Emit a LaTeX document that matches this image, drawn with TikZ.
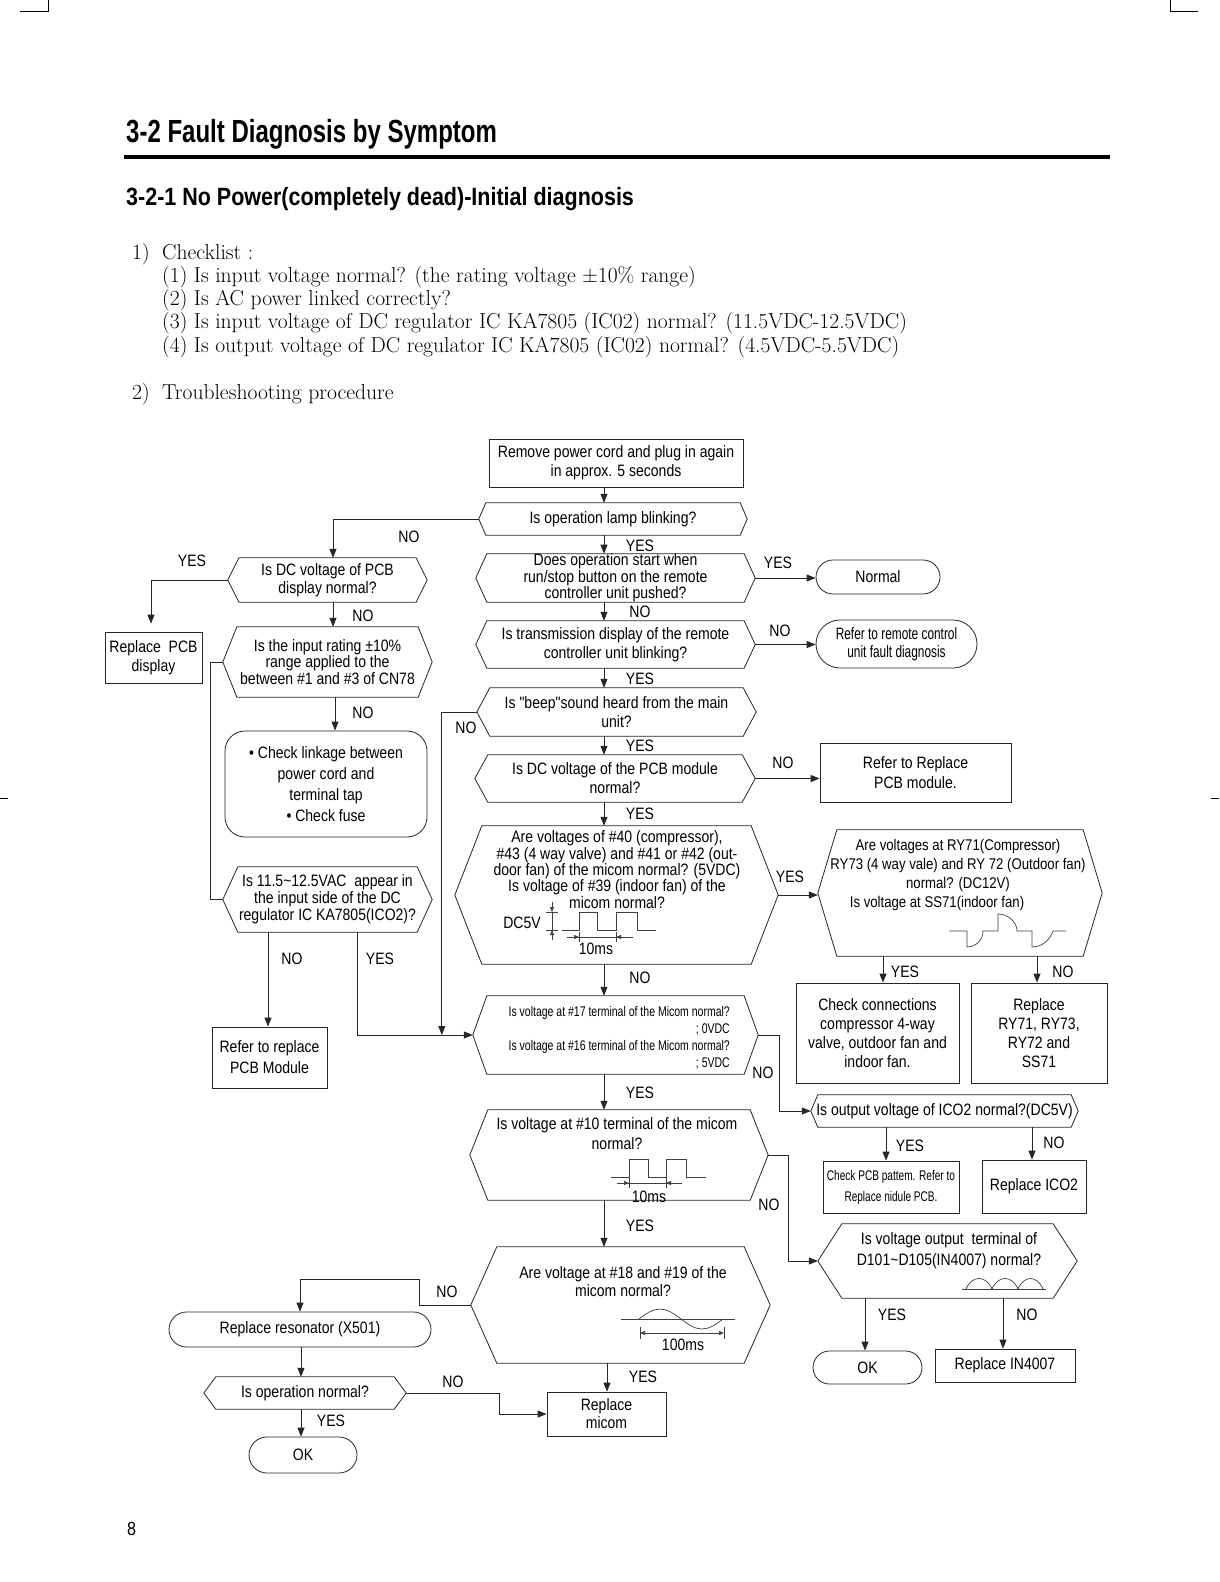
\documentclass[tikz,border=0pt]{standalone}
\usepackage{fontspec}
\newfontfamily\cf[FakeStretch=0.85]{Liberation Sans}
\newfontfamily\cfn[FakeStretch=0.72]{Liberation Sans}
\newfontfamily\cfx[FakeStretch=0.75]{Liberation Sans}
\newfontfamily\hdf[FakeStretch=0.75]{Liberation Sans}
\newfontfamily\hdg[FakeStretch=0.86]{Liberation Sans}
\usetikzlibrary{arrows.meta,shapes.misc,calc}
\tikzset{
  ln/.style={draw=black!85, line width=0.8pt},
  arr/.style={ln, -{Triangle[length=9pt,width=7pt]}},
  wv/.style={draw=black!75, line width=0.7pt},
  fA/.style={font=\cf\fontsize{16.5}{19}\selectfont},
  box/.style={ln, rectangle, inner sep=0pt, align=center, fA},
  hx/.style={inner sep=0pt, align=center, fA},
  stad/.style={ln, rounded rectangle, inner sep=0pt, align=center, fA},
  lbl/.style={inner sep=0pt, fA},
  txt/.style={inner sep=0pt, align=center, fA},
  ck/.style={anchor=base west, inner sep=0pt, font=\fontsize{21.6}{23}\selectfont},
  tip/.style={-{Triangle[length=5pt,width=4pt]}}
}
\newcommand\hexo[2]{\draw[ln] (#1.west) -- ([xshift=#2]#1.north west) -- ([xshift=-#2]#1.north east) -- (#1.east) -- ([xshift=-#2]#1.south east) -- ([xshift=#2]#1.south west) -- cycle;}
\begin{document}
\begin{tikzpicture}[x=1pt,y=-1pt]
\fill[white] (0,0) rectangle (1219,1582);
\useasboundingbox (0,0) rectangle (1219,1582);
% crop marks
\draw[line width=1pt] (20,11) -- (48,11) -- (48,0);
\draw[line width=1pt] (1170,0) -- (1170,11) -- (1198,11);
\draw[line width=1pt] (0,798) -- (8,798);
\draw[line width=1pt] (1211,798) -- (1219,798);
% header
\node[anchor=base west, inner sep=0pt, font=\hdf\bfseries\fontsize{32}{32}\selectfont] (t1) at (126,142) {3-2 Fault Diagnosis by Symptom};
\draw[line width=4pt] (124,157) -- (1110,157);
\node[anchor=base west, inner sep=0pt, font=\hdg\bfseries\fontsize{25}{25}\selectfont] (t2) at (126,205) {3-2-1 No Power(completely dead)-Initial diagnosis};
\node[ck] (c0) at (132,259) {\makebox[30pt][l]{1)}Checklist :};
\node[ck] (c1) at (162,282.3) {(1) Is input voltage normal? (the rating voltage ±10\% range)};
\node[ck] (c2) at (162,305.6) {(2) Is AC power linked correctly?};
\node[ck] (c3) at (162,328.9) {(3) Is input voltage of DC regulator IC KA7805 (IC02) normal? (11.5VDC-12.5VDC)};
\node[ck] (c4) at (162,352.2) {(4) Is output voltage of DC regulator IC KA7805 (IC02) normal? (4.5VDC-5.5VDC)};
\node[ck] (c5) at (132,399.5) {\makebox[30pt][l]{2)}Troubleshooting procedure};
\node[anchor=base west, inner sep=0pt, font=\cf\fontsize{19}{19}\selectfont] (pg) at (127,1535) {8};

% ---------- nodes ----------
\node[box, minimum width=254, minimum height=48] (start) at (616,463) {Remove power cord and plug in again\\in approx. 5 seconds};
\node[hx, minimum width=268, minimum height=32] (lamp) at (613,519) {Is operation lamp blinking?}; \hexo{lamp}{7}
\node[hx, minimum width=279, minimum height=48, font={\cf\fontsize{16.5}{14.5}\selectfont}] (op) at (615.5,578) {Does operation start when\\run/stop button on the remote\\controller unit pushed?}; \hexo{op}{11}
\node[stad, minimum width=124, minimum height=34] (normal) at (878,577) {Normal};
\node[hx, minimum width=279, minimum height=47] (trans) at (615.5,644.5) {Is transmission display of the remote\\controller unit blinking?}; \hexo{trans}{11}
\node[stad, minimum width=161, minimum height=48, font={\cfn\fontsize{16.5}{18}\selectfont}] (remote) at (896.5,644) {Refer to remote control\\unit fault diagnosis};
\node[hx, minimum width=279, minimum height=48] (beep) at (616.5,712) {Is "beep"sound heard from the main\\unit?}; \hexo{beep}{13}
\node[hx, minimum width=199, minimum height=44, font={\cf\fontsize{16.5}{17.5}\selectfont}] (dcpcb) at (327.5,580) {Is DC voltage of PCB\\display normal?}; \hexo{dcpcb}{11}
\node[box, minimum width=97, minimum height=51] (rpd) at (153.5,657.5) {Replace~ PCB\\display};
\node[hx, minimum width=209, minimum height=70, font={\cf\fontsize{16.5}{16.5}\selectfont}] (rating) at (327.5,662) {Is the input rating ±10\%\\range applied to the\\between \#1 and \#3 of CN78}; \hexo{rating}{14}
\node[box, rounded corners=20pt, minimum width=202, minimum height=106, font={\cf\fontsize{16.5}{21}\selectfont}] (chk) at (326,784) {• Check linkage between\\power cord and\\terminal tap\\• Check fuse};
\node[hx, minimum width=209, minimum height=65, font={\cf\fontsize{16.5}{17}\selectfont}] (ic) at (327.5,899.5) {Is 11.5\textasciitilde 12.5VAC~ appear in\\the input side of the DC\\regulator IC KA7805(ICO2)?}; \hexo{ic}{15}
\node[box, minimum width=115, minimum height=61, font={\cf\fontsize{16.5}{21}\selectfont}] (rpm) at (269.5,1057.5) {Refer to replace\\PCB Module};
\node[hx, minimum width=280, minimum height=47] (dcm) at (615,778.5) {Is DC voltage of the PCB module\\normal?}; \hexo{dcm}{13}
\node[box, minimum width=191, minimum height=59, font={\cf\fontsize{16.5}{20}\selectfont}] (rrp) at (915.5,772.5) {Refer to Replace\\PCB module.};
\node[hx, minimum width=323, minimum height=138] (big) at (616.5,895) {}; \hexo{big}{27}
\node[txt, font={\cf\fontsize{16.5}{16.3}\selectfont}] (bigT) at (617,869.5) {Are voltages of \#40 (compressor),\\\#43 (4 way valve) and \#41 or \#42 (out-\\door fan) of the micom normal? (5VDC)\\Is voltage of \#39 (indoor fan) of the\\micom normal?};
\node[hx, minimum width=284, minimum height=126] (ry) at (960,893) {}; \hexo{ry}{19}
\node[txt, font={\cf\fontsize{15.5}{19}\selectfont}] (ryT) at (958,875) {Are voltages at RY71(Compressor)\\RY73 (4 way vale) and RY 72 (Outdoor fan)\\normal? (DC12V)\\Is voltage at SS71(indoor fan)\hspace*{42pt}};
\node[box, minimum width=163, minimum height=100] (cc) at (877.5,1033) {Check connections\\compressor 4-way\\valve, outdoor fan and\\indoor fan.};
\node[box, minimum width=136, minimum height=100] (rry) at (1039,1033) {Replace\\RY71, RY73,\\RY72 and\\SS71};
\node[hx, minimum width=285, minimum height=78] (s17) at (615.5,1035) {}; \hexo{s17}{14}
\node[txt, align=right, anchor=east, font={\cfx\fontsize{14}{17}\selectfont}] (s17T) at (730,1037.5) {Is voltage at \#17 terminal of the Micom normal?\\; 0VDC\\Is voltage at \#16 terminal of the Micom normal?\\; 5VDC};
\node[hx, minimum width=298, minimum height=90] (s10) at (619,1155) {}; \hexo{s10}{18}
\node[txt, font={\cf\fontsize{16.5}{20}\selectfont}] (s10T) at (617,1134) {Is voltage at \#10 terminal of the micom\\normal?};
\node[hx, minimum width=267, minimum height=32] (ico2) at (944.5,1111) {Is output voltage of ICO2 normal?(DC5V)}; \hexo{ico2}{7}
\node[box, minimum width=136, minimum height=52, font={\cfn\fontsize{14}{21}\selectfont}] (cpp) at (891,1187) {Check PCB pattem. Refer to\\Replace nidule PCB.};
\node[box, minimum width=104, minimum height=53] (ric) at (1034,1186.5) {Replace ICO2};
\node[hx, minimum width=259, minimum height=74] (d101) at (947.5,1261) {}; \hexo{d101}{24}
\node[txt, font={\cf\fontsize{16.5}{21}\selectfont}] (d101T) at (949,1250.5) {Is voltage output~ terminal of\\D101\textasciitilde D105(IN4007) normal?};
\node[stad, minimum width=109, minimum height=33] (ok2) at (867.5,1367.5) {OK};
\node[box, minimum width=140, minimum height=33] (rin) at (1005,1365.5) {Replace IN4007};
\node[hx, minimum width=299, minimum height=116] (s18) at (620.5,1305) {}; \hexo{s18}{26}
\node[txt, font={\cf\fontsize{16.5}{18}\selectfont}] (s18T) at (623,1282) {Are voltage at \#18 and \#19 of the\\micom normal?};
\node[stad, minimum width=262, minimum height=35] (res) at (300,1329.5) {Replace resonator (X501)};
\node[hx, minimum width=202, minimum height=32] (opn) at (305,1393) {Is operation normal?}; \hexo{opn}{12}
\node[box, minimum width=119, minimum height=44, font={\cf\fontsize{16.5}{18}\selectfont}] (rm) at (606.5,1414) {Replace\\micom};
\node[stad, minimum width=108, minimum height=36] (ok1) at (303,1455) {OK};

% ---------- waveforms ----------
\node[lbl] (dc5) at (522,923) {DC5V};
\draw[wv] (562,930) -- (579,930) -- (579,912) -- (597,912) -- (597,930) -- (616,930) -- (616,912) -- (637,912) -- (637,930) -- (656,930);
\draw[wv] (546,912) -- (558,912) (546,930) -- (558,930) (552,912) -- (552,930);
\draw[wv,tip] (552,902) -- (552,912);
\draw[wv,tip] (552,940) -- (552,930);
\draw[wv] (579,932) -- (579,942) (616,932) -- (616,942) (567,937) -- (633,937);
\draw[wv,tip] (567,937) -- (579,937);
\draw[wv,tip] (633,937) -- (616,937);
\node[lbl] (ms1) at (596,949) {10ms};

\draw[wv] (611,1177) -- (629,1177) -- (629,1159) -- (648,1159) -- (648,1177) -- (666,1177) -- (666,1159) -- (686,1159) -- (686,1177) -- (706,1177);
\draw[wv] (629,1178) -- (629,1188) (666,1178) -- (666,1188) (617,1183) -- (682,1183);
\draw[wv,tip] (617,1183) -- (629,1183);
\draw[wv,tip] (682,1183) -- (666,1183);
\node[lbl] (ms2) at (649,1197) {10ms};

\draw[wv] (621,1319) -- (735,1319);
\draw[wv] (639,1319) sin (660,1309) cos (681,1319) sin (702,1329) cos (723,1319);
\draw[wv] (640,1327) -- (640,1339) (724,1327) -- (724,1339);
\draw[wv,{Triangle[length=5pt,width=4pt]}-{Triangle[length=5pt,width=4pt]}] (640,1333) -- (724,1333);
\node[lbl] (ms3) at (683,1345) {100ms};

\draw[wv] (949,931) -- (967,931) -- (967,947) .. controls (976,947) and (983,940) .. (983,931) -- (998,931) -- (998,914) .. controls (1008,914) and (1017,922) .. (1017,931) -- (1032,931) -- (1032,947) .. controls (1042,947) and (1050,940) .. (1053,931) -- (1066,931);

\draw[wv] (962,1289) -- (1046,1289);
\draw[wv] (966,1289) .. controls (972,1275) and (986,1275) .. (992,1289) .. controls (998,1275) and (1012,1275) .. (1018,1289) .. controls (1024,1275) and (1037,1275) .. (1043,1289);

% ---------- connectors ----------
\coordinate (cA) at (604,0);
\coordinate (cB) at (333,0);
\coordinate (cC) at (268,0);
\coordinate (cD) at (357,0);
\coordinate (cE) at (883,0);
\coordinate (cF) at (1037,0);
\coordinate (cG) at (886,0);
\coordinate (cH) at (1032,0);
\coordinate (cI) at (865,0);
\coordinate (cJ) at (1003,0);
\coordinate (cK) at (301,0);
\coordinate (cL) at (607,0);
\coordinate (cM) at (151,0);
\coordinate (cN) at (335,0);
\coordinate (b1) at (419,1279);
\coordinate (j1) at ([xshift=-31]s17.west);

\draw[arr] (start.south -| cA) -- (lamp.north -| cA);
\draw[arr] (lamp.west) -| (dcpcb.north -| cB);
\draw[arr, shorten >=8pt] (dcpcb.west) -| (rpd.north -| cM);
\draw[arr] (dcpcb.south -| cB) -- (rating.north -| cB);
\draw[ln] (rating.west) -- ++(-12,0) |- (ic.west);
\draw[arr] (rating.south -| cN) -- (chk.north -| cN);
\draw[arr] (ic.south -| cC) -- (rpm.north -| cC);
\draw[arr] (ic.south -| cD) |- (s17.west);
\draw[arr] (beep.west) -| (j1);
\draw[arr] (lamp.south -| cA) -- (op.north -| cA);
\draw[arr] (op.east) -- (op.east -| normal.west);
\draw[arr] (op.south -| cA) -- (trans.north -| cA);
\draw[arr] (trans.east) -- (trans.east -| remote.west);
\draw[arr] (trans.south -| cA) -- (beep.north -| cA);
\draw[arr] (beep.south -| cA) -- (dcm.north -| cA);
\draw[arr] (dcm.east) -- (dcm.east -| rrp.west);
\draw[arr] (dcm.south -| cA) -- (big.north -| cA);
\draw[arr] (big.east) -- (big.east -| ry.west);
\draw[arr] (big.south -| cA) -- (s17.north -| cA);
\draw[arr] (ry.south -| cE) -- (cc.north -| cE);
\draw[arr] (ry.south -| cF) -- (rry.north -| cF);
\draw[arr] (s17.east) -- ++(21,0) |- (ico2.west);
\draw[arr] (s17.south -| cA) -- (s10.north -| cA);
\draw[arr] (s10.east) -- ++(20,0) |- (d101.west);
\draw[arr] (s10.south -| cA) -- (s18.north -| cA);
\draw[arr] (ico2.south -| cG) -- (cpp.north -| cG);
\draw[arr] (ico2.south -| cH) -- (ric.north -| cH);
\draw[arr] (d101.south -| cI) -- (ok2.north -| cI);
\draw[arr] (d101.south -| cJ) -- (rin.north -| cJ);
\draw[arr] (s18.west) -| (b1) -| (res.north);
\draw[arr] (res.south -| cK) -- (opn.north -| cK);
\draw[arr] (opn.east) -- ++(93,0) |- (rm.west);
\draw[arr] (s18.south -| cL) -- (rm.north -| cL);
\draw[arr] (opn.south -| cK) -- (ok1.north -| cK);

% ---------- labels ----------
\node[lbl] (l1) at (409,537) {NO};
\node[lbl] (l2) at (192,561) {YES};
\node[lbl] (l3) at (363,616) {NO};
\node[lbl] (l4) at (363,713) {NO};
\node[lbl] (l5) at (466,728) {NO};
\node[lbl] (l6) at (292,959) {NO};
\node[lbl] (l7) at (380,959) {YES};
\node[lbl] (l8) at (640,546) {YES};
\node[lbl] (l9) at (778,563) {YES};
\node[lbl] (l10) at (640,612) {NO};
\node[lbl] (l11) at (780,631) {NO};
\node[lbl] (l12) at (640,679) {YES};
\node[lbl] (l13) at (640,746) {YES};
\node[lbl] (l14) at (783,763) {NO};
\node[lbl] (l15) at (640,814) {YES};
\node[lbl] (l16) at (790,877) {YES};
\node[lbl] (l17) at (640,978) {NO};
\node[lbl] (l18) at (905,972) {YES};
\node[lbl] (l19) at (1063,972) {NO};
\node[lbl] (l20) at (763,1073) {NO};
\node[lbl] (l21) at (640,1093) {YES};
\node[lbl] (l22) at (769,1205) {NO};
\node[lbl] (l23) at (910,1146) {YES};
\node[lbl] (l24) at (1054,1143) {NO};
\node[lbl] (l25) at (640,1226) {YES};
\node[lbl] (l26) at (892,1315) {YES};
\node[lbl] (l27) at (1027,1315) {NO};
\node[lbl] (l28) at (447,1292) {NO};
\node[lbl] (l29) at (643,1377) {YES};
\node[lbl] (l30) at (453,1382) {NO};
\node[lbl] (l31) at (331,1421) {YES};
\end{tikzpicture}
\end{document}
